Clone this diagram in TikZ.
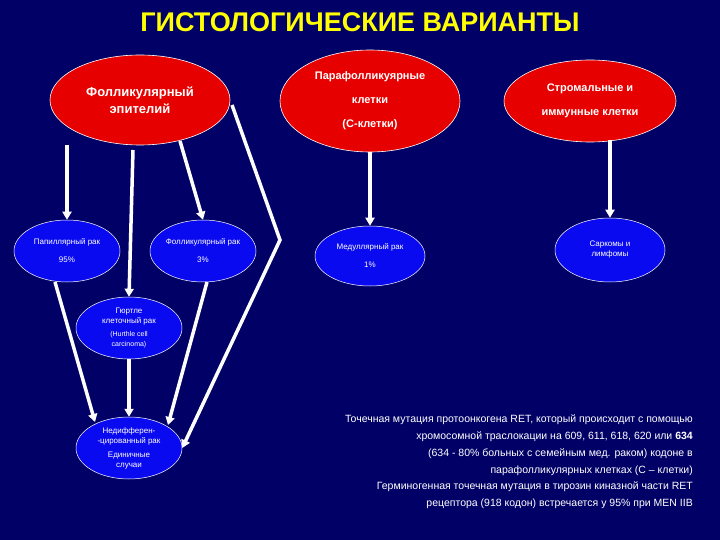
\documentclass[tikz,border=0pt]{standalone}
\usepackage{fontspec}
\setmainfont{Liberation Sans}
\usetikzlibrary{shapes.geometric,arrows.meta}
\definecolor{bg}{RGB}{0,0,102}
\definecolor{redc}{RGB}{230,0,0}
\definecolor{bluec}{RGB}{10,10,240}
\definecolor{ttl}{RGB}{255,255,0}
\begin{document}
\begin{tikzpicture}[x=1pt,y=-1pt,
 redell/.style={ellipse,draw=white,fill=redc,text=white,font=\bfseries\fontsize{13}{17}\selectfont,align=center,inner sep=0pt,line width=0.6pt},
 blueell/.style={ellipse,draw=white,fill=bluec,text=white,font=\fontsize{8}{10}\selectfont,align=center,inner sep=0pt,line width=0.5pt},
 arr/.style={draw=white,line width=3.5pt,-{Triangle[width=9pt,length=8pt]}},
 note/.style={text=white,font=\fontsize{10.5}{17}\selectfont,align=right,anchor=north east,inner sep=0pt}]
\fill[bg] (0,0) rectangle (720,540);
\useasboundingbox (0,0) rectangle (720,540);
\node[text=ttl,font=\bfseries\fontsize{27}{30}\selectfont] (title) at (360,22) {ГИСТОЛОГИЧЕСКИЕ ВАРИАНТЫ};
\node[redell,minimum width=180,minimum height=90] (fe) at (140,100) {Фолликулярный\\эпителий};
\node[redell,minimum width=180,minimum height=102,font=\bfseries\fontsize{11}{24}\selectfont] (pf) at (370,101) {Парафолликуярные\\клетки\\(С-клетки)};
\node[redell,minimum width=172,minimum height=82,font=\bfseries\fontsize{11}{24}\selectfont] (st) at (590,101) {Стромальные и\\иммунные клетки};
\node[blueell,minimum width=106,minimum height=62,font=\fontsize{8}{18}\selectfont] (pap) at (67,251) {Папиллярный рак\\95\%};
\node[blueell,minimum width=106,minimum height=62,font=\fontsize{8}{18}\selectfont] (fol) at (203,251) {Фолликулярный рак\\3\%};
\node[blueell,minimum width=110,minimum height=60,font=\fontsize{8}{18}\selectfont] (med) at (370,256) {Медуллярный рак\\1\%};
\node[blueell,minimum width=110,minimum height=64] (sar) at (610,250) {Саркомы и\\лимфомы};
\node[blueell,minimum width=106,minimum height=62] (hur) at (129,328) {Гюртле\\клеточный рак\\[3pt]{\fontsize{7}{8}\selectfont (Hurthle cell}\\{\fontsize{7}{8}\selectfont carcinoma)}};
\node[blueell,minimum width=106,minimum height=62] (und) at (129,448) {Недифферен-\\-цированный рак\\[4pt]Единичные\\случаи};
\coordinate (bend) at (280,240);
\coordinate (s4) at (232,105);
\coordinate (s9) at (610,140);
\draw[arr] (67,145) -- (pap.north);
\draw[arr] (133,150) -- (hur.north);
\draw[arr] (180,141) -- (fol.north);
\draw[arr] (s4) -- (bend) -- (und.east);
\draw[arr] (55,282) -- (95,422);
\draw[arr] (hur.south) -- (und.north);
\draw[arr] (207,282) -- (168,425);
\draw[arr] (pf.south) -- (med.north);
\draw[arr] (s9) -- (sar.north);
\node[note] (n1) at (693,415) {Точечная мутация протоонкогена RET, который происходит с помощью\\хромосомной траслокации на 609, 611, 618, 620 или \textbf{634}\\(634 - 80\% больных с семейным мед. раком) кодоне в\\парафолликулярных клетках (С – клетки)};
\node[note] (n2) at (693,482) {Герминогенная точечная мутация в тирозин киназной части RET\\рецептора (918 кодон) встречается у 95\% при MEN IIB};
\end{tikzpicture}
\end{document}
